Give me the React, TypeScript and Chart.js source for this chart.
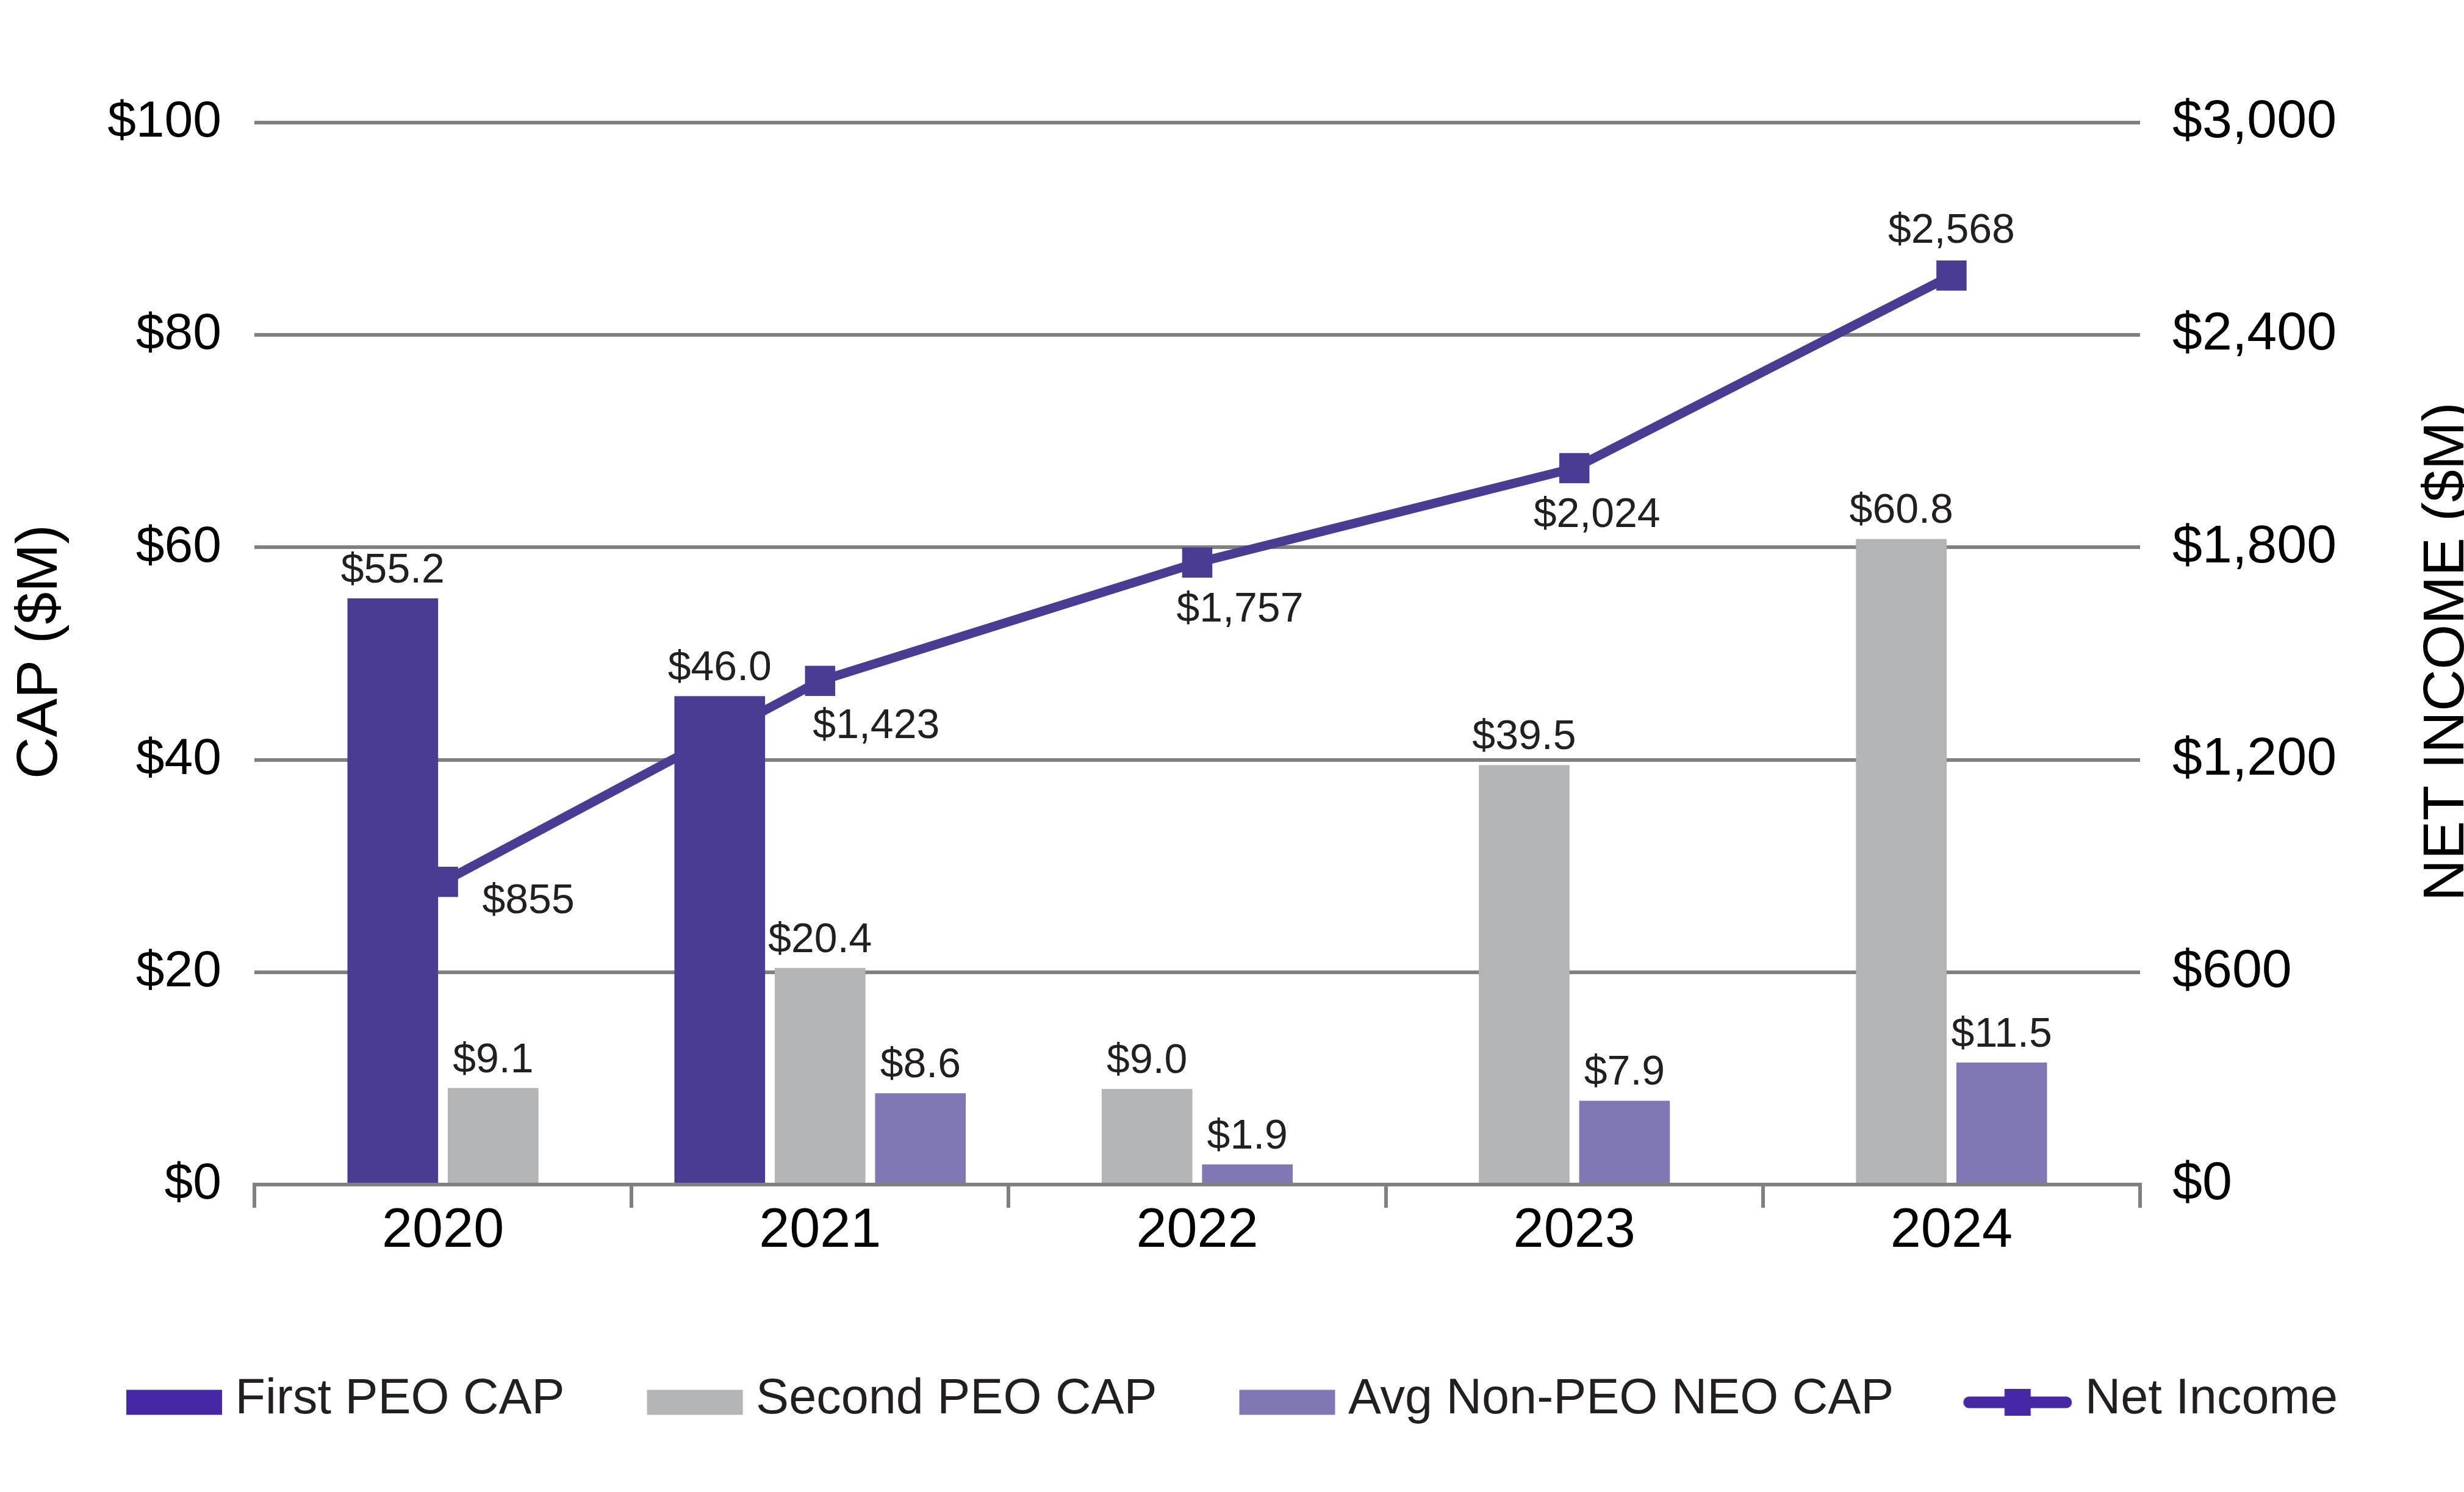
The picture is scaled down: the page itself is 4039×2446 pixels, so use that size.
import React, { useEffect, useRef } from 'react';
import { Chart, registerables } from 'chart.js';

Chart.register(...registerables);

// ---------- data ----------
const years = ['2020', '2021', '2022', '2023', '2024'];
const firstPeoCap: (number | null)[] = [55.2, 46.0, null, null, null];
const secondPeoCap: (number | null)[] = [9.1, 20.4, 9.0, 39.5, 60.8];
const avgNonPeoCap: (number | null)[] = [null, 8.6, 1.9, 7.9, 11.5];
const netIncome: number[] = [855, 1423, 1757, 2024, 2568];
const seriesNames = ['First PEO CAP', 'Second PEO CAP', 'Avg Non-PEO NEO CAP', 'Net Income'];
const capAxis = { min: 0, max: 100, step: 20 };
const incomeAxis = { min: 0, max: 3000, step: 600 };
const axisTitles = ['CAP ($M)', 'NET INCOME ($M)'];

// ---------- styles ----------
const FONT = '"Liberation Sans", Arial, Helvetica, sans-serif';
const C_FIRST = '#4B3C93';
const C_SECOND = '#B3B4B6';
const C_AVG = '#8078B4';
const C_LINE = '#4B3C93';
const C_LEG_FIRST = '#4628A4';
const C_LEG_LINE = '#4628A4';
const C_GRID = '#808080';
const C_TEXT = '#231F20';
// net income label offsets relative to marker (dx, dy)
const netLabelOffsets: [number, number][] = [[140, 32], [92, 75], [70, 78], [37, 78], [0, -72]];

const LEG_W = 138; // legend pointStyleWidth
const LEG_PAD = 135;
const PAD_BOTTOM = 100.5;

function makeSwatch(kind: 'bar' | 'line', color: string): HTMLCanvasElement {
  const cw = 374;
  const ch = 80;
  const c = document.createElement('canvas');
  c.width = cw;
  c.height = ch;
  const g = c.getContext('2d')!;
  const xOrigin = cw / 2 - LEG_W / 2; // offset corresponding to item x
  const rightEdge = xOrigin + 157;
  const cy = ch / 2 + 4;
  g.fillStyle = color;
  g.strokeStyle = color;
  if (kind === 'bar') {
    g.fillRect(xOrigin, cy - 20.5, 157, 41);
  } else {
    const left = rightEdge - 178;
    g.lineWidth = 19;
    g.lineCap = 'round';
    g.beginPath();
    g.moveTo(left + 9.5, cy);
    g.lineTo(rightEdge - 9.5, cy);
    g.stroke();
    const mid = (left + rightEdge) / 2;
    g.fillRect(mid - 21.5, cy - 22, 43, 44);
  }
  return c;
}

const barCommon = {
  barThickness: 164.5,
  borderWidth: { left: 8.25, right: 8.25, top: 0, bottom: 0 },
  borderColor: 'rgba(0,0,0,0)',
  skipNull: true,
  yAxisID: 'y',
};

const labelPlugin = {
  id: 'valueLabels',
  afterDatasetsDraw(chart: any) {
    const ctx = chart.ctx as CanvasRenderingContext2D;
    ctx.save();
    ctx.fillStyle = C_TEXT;
    ctx.font = `68px ${FONT}`;
    ctx.textAlign = 'center';
    chart.data.datasets.forEach((ds: any, di: number) => {
      const meta = chart.getDatasetMeta(di);
      meta.data.forEach((el: any, i: number) => {
        const v = ds.data[i];
        if (v === null || v === undefined) return;
        if (ds.type === 'line') {
          const [dx, dy] = netLabelOffsets[i];
          ctx.textBaseline = 'middle';
          ctx.fillText('$' + Number(v).toLocaleString('en-US'), el.x + dx, el.y + dy);
        } else {
          ctx.textBaseline = 'alphabetic';
          ctx.fillText('$' + Number(v).toFixed(1), el.x, el.y - 26);
        }
      });
    });
    ctx.restore();
  },
  afterDraw(chart: any) {
    const ctx = chart.ctx as CanvasRenderingContext2D;
    const area = chart.chartArea;
    const mid = (area.top + area.bottom) / 2 - 3;
    ctx.save();
    ctx.fillStyle = '#000';
    ctx.font = `95px ${FONT}`;
    ctx.textAlign = 'center';
    ctx.textBaseline = 'alphabetic';
    ctx.save();
    ctx.translate(93, mid);
    ctx.rotate(-Math.PI / 2);
    ctx.fillText(axisTitles[0], 0, 0);
    ctx.restore();
    ctx.save();
    ctx.translate(chart.width - 1, mid);
    ctx.rotate(-Math.PI / 2);
    ctx.fillText(axisTitles[1], 0, 0);
    ctx.restore();
    ctx.restore();
  },
};

export default function App() {
  const ref = useRef<HTMLCanvasElement>(null);
  useEffect(() => {
    document.body.style.margin = '0';
    document.body.style.overflow = 'hidden';
    const swatches = [
      makeSwatch('bar', C_LEG_FIRST),
      makeSwatch('bar', C_SECOND),
      makeSwatch('bar', C_AVG),
      makeSwatch('line', C_LEG_LINE),
    ];
    const chart = new Chart(ref.current as HTMLCanvasElement, {
      type: 'bar',
      data: {
        labels: years,
        datasets: [
          { ...barCommon, type: 'bar', label: seriesNames[0], data: firstPeoCap, backgroundColor: C_FIRST } as any,
          { ...barCommon, type: 'bar', label: seriesNames[1], data: secondPeoCap, backgroundColor: C_SECOND } as any,
          { ...barCommon, type: 'bar', label: seriesNames[2], data: avgNonPeoCap, backgroundColor: C_AVG } as any,
          {
            type: 'line',
            label: seriesNames[3],
            data: netIncome,
            yAxisID: 'y1',
            borderColor: C_LINE,
            backgroundColor: C_LINE,
            borderWidth: 15,
            pointStyle: 'rect',
            pointRadius: 35,
            pointBackgroundColor: C_LINE,
            pointBorderWidth: 0,
            tension: 0,
          } as any,
        ],
      },
      options: {
        animation: false,
        responsive: true,
        maintainAspectRatio: false,
        events: [],
        layout: { padding: { top: 201, left: 0, right: 0, bottom: PAD_BOTTOM } },
        scales: {
          x: {
            offset: true,
            grid: {
              offset: true,
              drawOnChartArea: false,
              drawTicks: true,
              tickLength: 38,
              color: C_GRID,
              lineWidth: 6,
            },
            border: { display: true, color: C_GRID, width: 6 },
            ticks: { color: '#000', font: { family: FONT, size: 90 }, padding: -15, maxRotation: 0 },
            afterFit: (s: any) => { s.height = 2446 - PAD_BOTTOM - (91 + LEG_PAD) - 1942; },
          },
          y: {
            position: 'left',
            min: capAxis.min,
            max: capAxis.max,
            ticks: {
              stepSize: capAxis.step,
              color: '#000',
              font: { family: FONT, size: 84 },
              padding: 54,
              callback: (v: any) => '$' + v,
            },
            grid: { color: C_GRID, lineWidth: 6, drawTicks: false },
            border: { display: false },
            afterFit: (s: any) => { s.width = 417; },
          },
          y1: {
            position: 'right',
            min: incomeAxis.min,
            max: incomeAxis.max,
            ticks: {
              stepSize: incomeAxis.step,
              color: '#000',
              font: { family: FONT, size: 88 },
              padding: 53,
              callback: (v: any) => '$' + Number(v).toLocaleString('en-US'),
            },
            grid: { display: false, drawTicks: false },
            border: { display: false },
            afterFit: (s: any) => { s.width = 531; },
          },
        },
        plugins: {
          tooltip: { enabled: false },
          legend: {
            position: 'bottom',
            labels: {
              usePointStyle: true,
              pointStyleWidth: LEG_W,
              padding: LEG_PAD,
              color: C_TEXT,
              font: { family: FONT, size: 81 },
              generateLabels: (ch: any) =>
                (Chart.defaults.plugins.legend.labels.generateLabels as any)(ch).map((l: any, i: number) => ({
                  ...l,
                  pointStyle: swatches[l.datasetIndex ?? i],
                  lineWidth: 0,
                })),
            },
          },
        },
      } as any,
      plugins: [labelPlugin],
    });
    return () => chart.destroy();
  }, []);
  return (
    <div style={{ width: 4039, height: 2446, position: 'relative', background: '#fff' }}>
      <canvas ref={ref} />
    </div>
  );
}
